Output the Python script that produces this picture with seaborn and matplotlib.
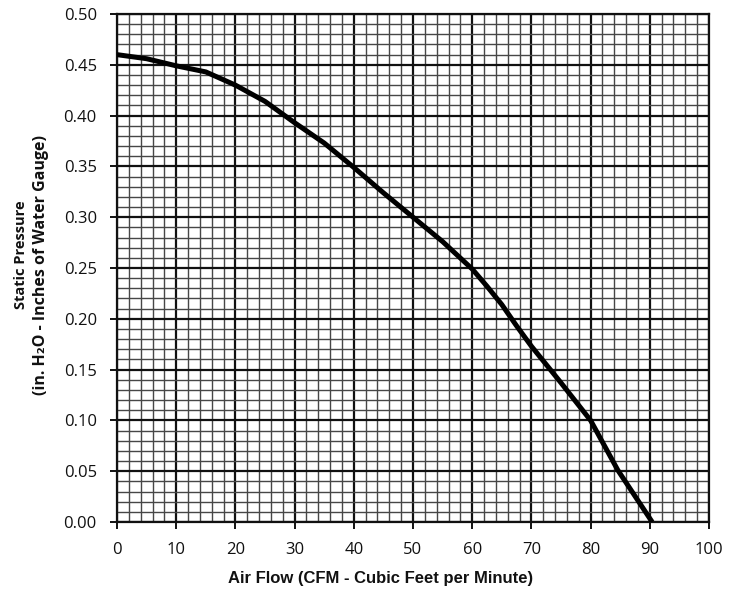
import matplotlib
matplotlib.use("Agg")
import matplotlib.pyplot as plt
from matplotlib.ticker import MultipleLocator
import seaborn as sns
import pandas as pd

air_flow = [0, 5, 10, 15, 20, 25, 30, 35, 40, 45, 50, 55, 60, 62.5, 65, 67.5, 70, 75, 80, 84.6, 90.4]
static_pressure = [0.460, 0.456, 0.449, 0.443, 0.430, 0.414, 0.393, 0.373, 0.349, 0.324, 0.300,
                   0.276, 0.249, 0.232, 0.214, 0.193, 0.173, 0.137, 0.100, 0.051, 0.0]
x_ticks = [0, 10, 20, 30, 40, 50, 60, 70, 80, 90, 100]
y_ticks = [0.00, 0.05, 0.10, 0.15, 0.20, 0.25, 0.30, 0.35, 0.40, 0.45, 0.50]

sns.set_theme(style="white")
plt.rcParams['font.family'] = ['Open Sans', 'DejaVu Sans']

df = pd.DataFrame({"flow": air_flow, "pressure": static_pressure})

fig = plt.figure(figsize=(7.41, 5.99), dpi=100)
ax = fig.add_axes([117/741, 1 - 522/599, (709 - 117)/741, (522 - 14)/599])

sns.lineplot(data=df, x="flow", y="pressure", ax=ax, color="black", linewidth=3.6,
             zorder=5, solid_capstyle="butt")

ax.set_xlim(0, 100)
ax.set_ylim(0, 0.5)
ax.set_xticks(x_ticks)
ax.set_yticks(y_ticks)
ax.set_xticklabels([str(v) for v in x_ticks])
ax.set_yticklabels([f"{v:.2f}" for v in y_ticks])
ax.xaxis.set_minor_locator(MultipleLocator(2))
ax.yaxis.set_minor_locator(MultipleLocator(0.01))

ax.grid(which="minor", color="#474747", linewidth=1.0)
ax.grid(which="major", color="#111111", linewidth=1.6)
ax.set_axisbelow(True)

for s in ax.spines.values():
    s.set_color("#111111")
    s.set_linewidth(1.6)

ax.tick_params(which="major", direction="out", length=5, width=1.4, color="#111111",
               labelsize=12, pad=9.5, bottom=True, left=True, labelcolor="#111111")
ax.tick_params(which="minor", length=0)

ax.set_xlabel("")
ax.set_ylabel("")

fig.text(381/741, 1 - 578/599, "Air Flow (CFM - Cubic Feet per Minute)",
         ha="center", va="center", fontsize=12, fontweight="bold",
         family=["Liberation Sans", "DejaVu Sans"], color="#111111")
fig.text(21/741, 1 - 255/599, "Static Pressure", rotation=90, ha="center", va="center",
         fontsize=10.5, fontweight="bold", color="#111111")
fig.text(41/741, 1 - 265/599, "(in. H\u2082O - Inches of Water Gauge)", rotation=90,
         ha="center", va="center", fontsize=11.5, fontweight="bold", color="#111111")

fig.savefig("out.png", dpi=100)
